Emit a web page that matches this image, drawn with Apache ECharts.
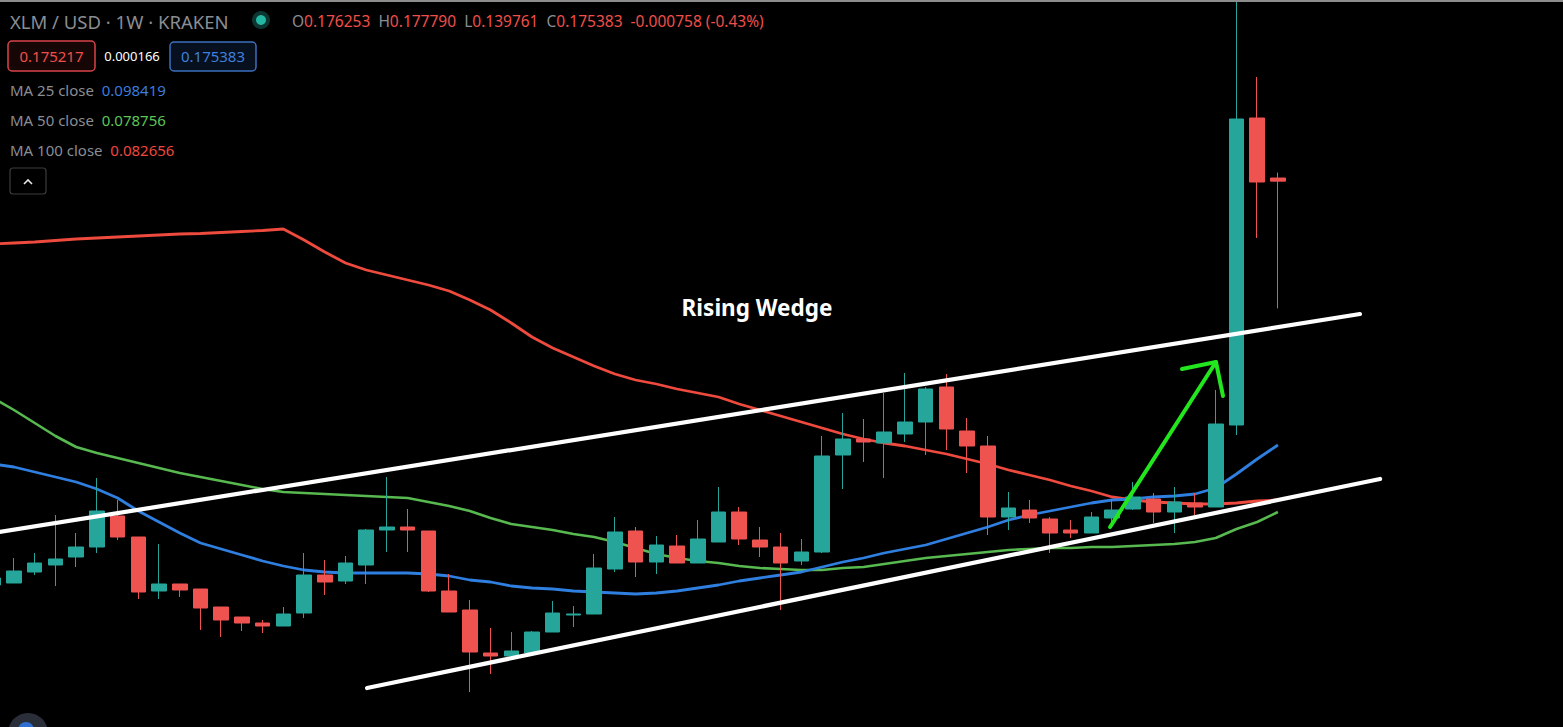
<!DOCTYPE html>
<html>
<head>
<meta charset="utf-8">
<script src="https://cdn.jsdelivr.net/npm/echarts@6/dist/echarts.min.js"></script>
<style>
html,body{margin:0;padding:0;background:#000;overflow:hidden;}
#chart{width:1563px;height:727px;}
</style>
</head>
<body>
<div id="chart"></div>
<script>
// Weekly XLM/USD candles (Kraken), oldest first; first one is week -1 (cut off at the left edge), last one is the current week
const opens  = [0.0623,0.06286,0.06594,0.0679,0.07014,0.07294,0.08162,0.07574,0.06062,0.06258,0.06118,0.05614,0.05334,0.05166,0.05082,0.05446,0.0651,0.06342,0.0679,0.0777,0.07854,0.07742,0.06062,0.0553,0.04326,0.04242,0.04326,0.04914,0.0539,0.05418,0.06678,0.07742,0.06874,0.07322,0.06846,0.07434,0.08274,0.0749,0.07294,0.06902,0.07154,0.0987,0.10318,0.10206,0.10458,0.10794,0.11774,0.10542,0.10122,0.08134,0.0833,0.08078,0.0777,0.07686,0.08106,0.08358,0.08638,0.08274,0.08526,0.08414,0.1071,0.19306,0.176253];
const closes = [0.06426,0.06622,0.06846,0.06958,0.07294,0.08302,0.07574,0.06034,0.06258,0.0609,0.05586,0.0525,0.05166,0.05082,0.05418,0.0651,0.06314,0.06846,0.0777,0.07854,0.0777,0.06062,0.05474,0.04354,0.04242,0.04382,0.04914,0.05446,0.05418,0.06706,0.07714,0.06874,0.0735,0.06846,0.07518,0.08274,0.07518,0.07294,0.06846,0.07154,0.09842,0.10318,0.10234,0.10514,0.10794,0.11718,0.10598,0.10122,0.08134,0.08386,0.08106,0.07686,0.07686,0.08134,0.0833,0.08694,0.08274,0.08554,0.08414,0.10738,0.19278,0.17514,0.175383];
const lows   = [0.06146,0.06286,0.0651,0.06202,0.06734,0.07126,0.0749,0.05838,0.05838,0.05894,0.0497,0.04774,0.04942,0.04886,0.05082,0.05306,0.0595,0.06258,0.06258,0.07154,0.07154,0.06034,0.05474,0.03234,0.03738,0.04242,0.04326,0.04914,0.05054,0.05418,0.06594,0.06454,0.06538,0.06846,0.06846,0.07434,0.0735,0.07014,0.0553,0.0679,0.07126,0.08918,0.09674,0.09226,0.10234,0.0987,0.1001,0.09366,0.0763,0.0777,0.07966,0.07126,0.07546,0.07686,0.07826,0.0833,0.07966,0.07686,0.0819,0.08414,0.1043,0.15946,0.139761];
const highs  = [0.06594,0.06986,0.07126,0.0819,0.07686,0.09226,0.0861,0.07574,0.07378,0.06258,0.06118,0.05614,0.05334,0.0525,0.05614,0.07126,0.0693,0.07042,0.07798,0.09254,0.08358,0.07742,0.06538,0.0581,0.05026,0.04914,0.04942,0.05782,0.05642,0.07098,0.08134,0.07854,0.07602,0.0763,0.0805,0.08974,0.08414,0.07854,0.07686,0.07518,0.10402,0.11046,0.10878,0.11606,0.12166,0.11774,0.12138,0.10906,0.10402,0.08834,0.0861,0.08134,0.0805,0.08274,0.08638,0.09114,0.08806,0.08974,0.08806,0.1169,0.2261,0.20454,0.17779];

// Moving averages of close, one value per week (same weeks as the candles)
const ma25  = [0.09618,0.09534,0.09394,0.09254,0.09114,0.08918,0.08666,0.08302,0.07994,0.07686,0.07406,0.07238,0.0707,0.06902,0.06762,0.0665,0.06594,0.06566,0.06566,0.06566,0.06566,0.06538,0.06482,0.0637,0.06314,0.06202,0.06146,0.06118,0.06062,0.06034,0.06006,0.05978,0.06006,0.06062,0.06146,0.0623,0.06342,0.06426,0.0651,0.06594,0.06734,0.06874,0.06986,0.07126,0.07238,0.0735,0.07518,0.07686,0.07854,0.0805,0.0819,0.08302,0.08414,0.08526,0.0861,0.08638,0.08694,0.08722,0.08778,0.08946,0.09338,0.09758,0.1015];
const ma50  = [0.11466,0.1113,0.10766,0.10402,0.10094,0.09926,0.09786,0.09646,0.09506,0.09366,0.09254,0.09142,0.0903,0.08918,0.08834,0.08806,0.08778,0.0875,0.08722,0.08694,0.08666,0.08554,0.08442,0.08302,0.08106,0.07938,0.07854,0.0777,0.07658,0.07574,0.07434,0.07266,0.07098,0.06986,0.06902,0.06846,0.06762,0.06706,0.06678,0.0665,0.0665,0.06706,0.06734,0.06818,0.06902,0.06986,0.07042,0.07098,0.07154,0.0721,0.07238,0.07266,0.07266,0.07294,0.07294,0.07322,0.0735,0.07378,0.07434,0.07546,0.07798,0.07994,0.08274];
const ma100 = [0.15778,0.15806,0.15834,0.15876,0.15918,0.15946,0.15974,0.16002,0.1603,0.16058,0.16072,0.161,0.16128,0.16156,0.16198,0.1589,0.15554,0.15246,0.1505,0.1491,0.1477,0.1463,0.14462,0.1421,0.1393,0.13566,0.13174,0.12866,0.12614,0.12362,0.12138,0.1197,0.11858,0.11718,0.11606,0.11494,0.11298,0.1113,0.10962,0.10794,0.10626,0.10458,0.10318,0.10206,0.10122,0.1001,0.09898,0.09758,0.09618,0.0945,0.0931,0.0917,0.09002,0.08862,0.08694,0.0861,0.08554,0.08526,0.08498,0.08498,0.08526,0.08582,0.0861];

// Drawings, as [week position, price]; week 0 = first fully visible candle
const upperWedge = [[-1.5, 0.07638], [64.96, 0.13818]];
const lowerWedge = [[17.04, 0.03346], [65.93, 0.09198]];
const arrowShaft = [[52.90, 0.07854], [58.01, 0.12474]];
const arrowHead  = [[56.37, 0.12278], [58.01, 0.12474], [58.35, 0.11522]];

const FIRST_WEEK = -1; // week position of the first entry in the arrays above
const week = i => i + FIRST_WEEK;
const candleData = opens.map((o, i) => [week(i), o, closes[i], lows[i], highs[i]]);
const ma25Data  = ma25.map((v, i) => [week(i), v]);
const ma50Data  = ma50.map((v, i) => [week(i), v]);
const ma100Data = ma100.map((v, i) => [week(i), v]);

const UP = '#26a69a', DOWN = '#ef5350';
const GRAY = '#8a8d94';
const FONT = '"Noto Sans", "Open Sans", sans-serif';

const chart = echarts.init(document.getElementById('chart'), null, {renderer: 'svg'});

const option = {
  backgroundColor: '#000000',
  animation: false,
  grid: {left: 0, right: 0, top: 0, bottom: 0, containLabel: false},
  xAxis: {type: 'value', min: -0.6757, max: 74.7587, show: false, splitLine: {show: false}},
  yAxis: {type: 'value', min: 0.02254, max: 0.2261, show: false, splitLine: {show: false}},
  series: [
    {name: 'MA 100 close', type: 'line', data: ma100Data, showSymbol: false, z: 2,
     lineStyle: {color: '#ee4a3e', width: 2.8}},
    {name: 'MA 50 close', type: 'line', data: ma50Data, showSymbol: false, z: 2,
     lineStyle: {color: '#57b94f', width: 2.6}},
    {name: 'MA 25 close', type: 'line', data: ma25Data, showSymbol: false, z: 2,
     lineStyle: {color: '#2f7fe0', width: 2.8}},
    {name: 'XLM/USD', type: 'candlestick', data: candleData, barWidth: 15, z: 3,
     encode: {x: 0, y: [1, 2, 3, 4]},
     itemStyle: {color: UP, color0: DOWN, borderColor: UP, borderColor0: DOWN, borderWidth: 1}},
    {name: 'Upper wedge', type: 'line', data: upperWedge, showSymbol: false, z: 5,
     lineStyle: {color: '#ffffff', width: 4.2, cap: 'round'}},
    {name: 'Lower wedge', type: 'line', data: lowerWedge, showSymbol: false, z: 5,
     lineStyle: {color: '#ffffff', width: 4.2, cap: 'round'}},
    {name: 'Arrow', type: 'line', data: arrowShaft, showSymbol: false, z: 6,
     lineStyle: {color: '#22e61e', width: 4, cap: 'round'}},
    {name: 'Arrow head', type: 'line', data: arrowHead, showSymbol: false, z: 6,
     lineStyle: {color: '#22e61e', width: 4, cap: 'round', join: 'round'}}
  ],
  graphic: [
    {type: 'rect', shape: {x: 0, y: 0, width: 1563, height: 2}, style: {fill: '#8c8c8c'}, z: 10},
    {type: 'text', x: 10, y: 21, z: 10,
     style: {text: 'XLM / USD · 1W · KRAKEN', fill: GRAY, font: '18.5px ' + FONT, textVerticalAlign: 'middle'}},
    {type: 'circle', shape: {cx: 261, cy: 20, r: 9}, style: {fill: '#0d3532'}, z: 10},
    {type: 'circle', shape: {cx: 261, cy: 20, r: 5}, style: {fill: '#22b8a4'}, z: 11},
    {type: 'text', x: 292, y: 21, z: 10,
     style: {
       text: '{l|O}{v|0.176253}  {l|H}{v|0.177790}  {l|L}{v|0.139761}  {l|C}{v|0.175383}  {v|-0.000758 (-0.43%)}',
       font: '15.5px ' + FONT, textVerticalAlign: 'middle',
       rich: {l: {fill: GRAY, fontSize: 15.5, fontFamily: FONT}, v: {fill: '#ef4f4a', fontSize: 15.5, fontFamily: FONT}}
     }},
    {type: 'rect', shape: {x: 8, y: 41, width: 87, height: 30, r: 4}, style: {fill: '#160606', stroke: '#d9444a', lineWidth: 1.5}, z: 10},
    {type: 'text', x: 51.5, y: 56, z: 11,
     style: {text: '0.175217', fill: '#ef4f4a', font: '15px ' + FONT, textAlign: 'center', textVerticalAlign: 'middle'}},
    {type: 'text', x: 132, y: 56, z: 11,
     style: {text: '0.000166', fill: '#ffffff', font: '13px ' + FONT, textAlign: 'center', textVerticalAlign: 'middle'}},
    {type: 'rect', shape: {x: 170, y: 42, width: 86, height: 29, r: 4}, style: {fill: '#07101e', stroke: '#3d6fbf', lineWidth: 1.5}, z: 10},
    {type: 'text', x: 213, y: 56, z: 11,
     style: {text: '0.175383', fill: '#3f7fdc', font: '15px ' + FONT, textAlign: 'center', textVerticalAlign: 'middle'}},
    {type: 'text', x: 10, y: 90, z: 10,
     style: {text: '{l|MA 25 close}  {v|0.098419}', font: '15px ' + FONT, textVerticalAlign: 'middle',
       rich: {l: {fill: GRAY, fontSize: 15, fontFamily: FONT}, v: {fill: '#3b7bdc', fontSize: 15, fontFamily: FONT}}}},
    {type: 'text', x: 10, y: 120, z: 10,
     style: {text: '{l|MA 50 close}  {v|0.078756}', font: '15px ' + FONT, textVerticalAlign: 'middle',
       rich: {l: {fill: GRAY, fontSize: 15, fontFamily: FONT}, v: {fill: '#5fc456', fontSize: 15, fontFamily: FONT}}}},
    {type: 'text', x: 10, y: 150, z: 10,
     style: {text: '{l|MA 100 close}  {v|0.082656}', font: '15px ' + FONT, textVerticalAlign: 'middle',
       rich: {l: {fill: GRAY, fontSize: 15, fontFamily: FONT}, v: {fill: '#f0463e', fontSize: 15, fontFamily: FONT}}}},
    {type: 'rect', shape: {x: 10, y: 168, width: 36, height: 26, r: 3}, style: {fill: '#000', stroke: '#3c3c3c', lineWidth: 1.2}, z: 10},
    {type: 'polyline', shape: {points: [[24, 184], [28, 180], [32, 184]]}, style: {stroke: '#e6e6e6', lineWidth: 1.6, fill: null}, z: 11},
    {type: 'text', x: 757, y: 307, z: 10,
     style: {text: 'Rising Wedge', fill: '#ffffff', font: 'bold 22.5px ' + FONT, textAlign: 'center', textVerticalAlign: 'middle'}},
    {type: 'circle', shape: {cx: 28, cy: 733, r: 20}, style: {fill: '#2a2e39'}, z: 10},
    {type: 'circle', shape: {cx: 26, cy: 730, r: 8}, style: {fill: '#2f6fd0'}, z: 11}
  ]
};
chart.setOption(option);
</script>
</body>
</html>
